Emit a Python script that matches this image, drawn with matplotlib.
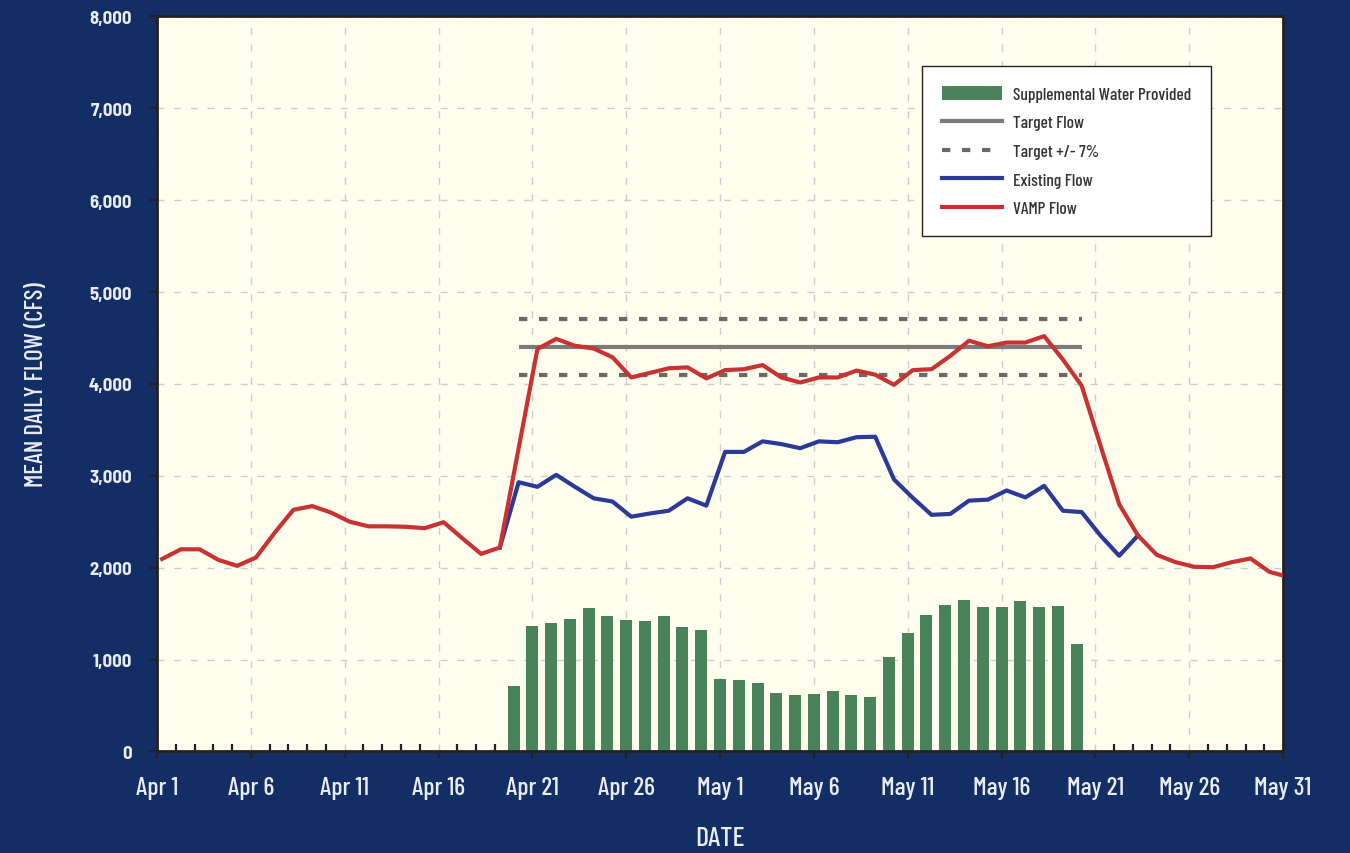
import numpy as np
import matplotlib
matplotlib.use("Agg")
import matplotlib.pyplot as plt
from matplotlib.lines import Line2D
from matplotlib.patches import Patch

# days counted from Apr 1 (day 0) to May 31 (day 60)
tick_days = [0, 5, 10, 15, 20, 25, 30, 35, 40, 45, 50, 55, 60]
tick_labels = ["Apr 1", "Apr 6", "Apr 11", "Apr 16", "Apr 21", "Apr 26", "May 1",
               "May 6", "May 11", "May 16", "May 21", "May 26", "May 31"]

vamp_flow = [2095, 2200, 2200, 2085, 2020, 2110, 2380, 2630, 2670, 2600,
             2500, 2450, 2450, 2445, 2430, 2495, 2320, 2150, 2220, 3300,
             4380, 4490, 4415, 4385, 4290, 4070, 4120, 4170, 4180, 4060,
             4150, 4160, 4205, 4070, 4015, 4070, 4070, 4145, 4100, 3990,
             4150, 4160, 4305, 4470, 4410, 4450, 4450, 4520, 4265, 3980,
             3330, 2690, 2350, 2140, 2060, 2010, 2005, 2060, 2100, 1955, 1900]

existing_start = 18
existing_flow = [2220, 2930, 2880, 3010, 2880, 2755, 2720, 2555, 2590, 2620,
                 2755, 2675, 3260, 3260, 3375, 3345, 3300, 3375, 3365, 3420,
                 3425, 2960, 2760, 2575, 2585, 2730, 2740, 2840, 2765, 2890,
                 2620, 2605, 2350, 2130, 2350]

supp_start = 19
supplemental = [713, 1366, 1398, 1442, 1561, 1474, 1431, 1420, 1474, 1355,
                1322, 789, 778, 745, 637, 615, 626, 658, 615, 593,
                1028, 1289, 1485, 1594, 1648, 1572, 1572, 1638, 1572, 1583, 1170]

target_flow = 4400
target_band = 0.07

days = np.arange(len(vamp_flow))
ex_days = np.arange(existing_start, existing_start + len(existing_flow))
sup_days = np.arange(supp_start, supp_start + len(supplemental))
target = np.full(len(sup_days), target_flow)

navy = "#132e65"
cream = "#fffdee"
red = "#c83232"
blue = "#2b3a98"
green = "#4a8259"
txt = "#e8ecf4"
narrow = ["Barlow Condensed", "DejaVu Sans"]
semi = ["Barlow Semi Condensed", "DejaVu Sans"]
dash = (0, (2.0, 2.8))

# the line series sit a little right of the bar centres in the source chart
shift = 0.27

fig = plt.figure(figsize=(13.5, 8.54), dpi=100, facecolor=navy)
ax = fig.add_axes([0.1163, 0.1189, 0.8341, 0.8608])
ax.set_facecolor(cream)

ax.bar(sup_days, supplemental, width=0.64, color=green, zorder=2)
ax.plot(sup_days + shift, target, color="#7b7b7b", lw=3, solid_capstyle="butt", zorder=3)
ax.plot(sup_days + shift, target * (1 + target_band), color="#696969", lw=3,
        linestyle=dash, zorder=3)
ax.plot(sup_days + shift, target * (1 - target_band), color="#696969", lw=3,
        linestyle=dash, zorder=3)
ax.plot(ex_days + shift, existing_flow, color=blue, lw=3, zorder=4)
ax.plot(days + shift, vamp_flow, color=red, lw=3, zorder=5)

ax.set_xlim(0, 60)
ax.set_ylim(0, 8000)
ax.set_axisbelow(True)

ax.set_xticks(tick_days)
ax.set_xticklabels(tick_labels, family=narrow, fontsize=18.5, fontweight=500, color=txt)
ax.set_xticks(np.arange(0, 61), minor=True)
ax.set_yticks(np.arange(0, 8001, 1000))
ax.set_yticklabels([f"{v:,}" for v in range(0, 8001, 1000)], family=semi,
                   fontsize=13.5, fontweight="bold", color=txt)

ax.tick_params(axis="x", which="major", direction="out", length=5, width=1.6,
               color="#222222", pad=13)
ax.tick_params(axis="x", which="minor", direction="in", length=5, width=1.6,
               color="#222222")
ax.tick_params(axis="y", which="major", direction="out", length=6, width=1.6,
               color="#222222", pad=12)

ax.grid(True, which="major", color="#cdcdcd", lw=1, linestyle=(0, (5, 7)))

for s in ax.spines.values():
    s.set_color("#222222")
    s.set_linewidth(2)

ax.set_xlabel("DATE", family=narrow, fontsize=20, fontweight=500, color=txt)
ax.xaxis.set_label_coords(0.5, -0.101)
ax.set_ylabel("MEAN DAILY FLOW (CFS)", family=narrow, fontsize=18, fontweight=500, color=txt)
ax.yaxis.set_label_coords(-0.097, 0.5)

handles = [
    Patch(facecolor=green, edgecolor="none"),
    Line2D([], [], color="#7b7b7b", lw=3),
    Line2D([], [], color="#696969", lw=3, linestyle=dash),
    Line2D([], [], color=blue, lw=3),
    Line2D([], [], color=red, lw=3),
]
names = ["Supplemental Water Provided", "Target Flow", "Target +/- 7%",
         "Existing Flow", "VAMP Flow"]
leg = ax.legend(handles, names, loc="upper left", bbox_to_anchor=(0.679, 0.932),
                borderaxespad=0, fancybox=False, framealpha=1, edgecolor="#222222",
                prop={"family": narrow, "size": 12.5, "weight": 500}, handlelength=3.5,
                handleheight=0.8, labelspacing=0.74, borderpad=1.15, handletextpad=0.6)
leg.get_frame().set_linewidth(1)
for t in leg.get_texts():
    t.set_color("#333333")

fig.savefig("out.png", dpi=100, facecolor=navy)
